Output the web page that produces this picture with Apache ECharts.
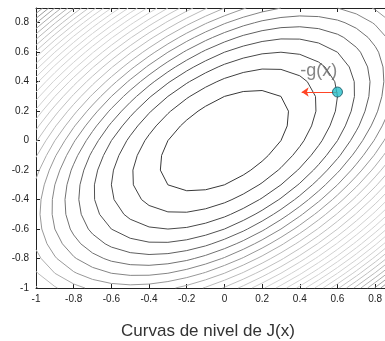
<!DOCTYPE html>
<html>
<head>
<meta charset="utf-8">
<script src="https://cdn.jsdelivr.net/npm/echarts@6/dist/echarts.min.js"></script>
<style>
  html, body { margin: 0; padding: 0; background: #fff; }
  #chart { width: 385px; height: 341px; }
</style>
</head>
<body>
<div id="chart"></div>
<script>
// sample grid of the surface (coarse, like the original plot)
const xGrid = [-1, -0.9, -0.8, -0.7, -0.6, -0.5, -0.4, -0.3, -0.2, -0.1, 0, 0.1, 0.2, 0.3, 0.4, 0.5, 0.6, 0.7, 0.8, 0.9];
const yGrid = [-1, -0.9, -0.8, -0.7, -0.6, -0.5, -0.4, -0.3, -0.2, -0.1, 0, 0.1, 0.2, 0.3, 0.4, 0.5, 0.6, 0.7, 0.8, 0.9];
// J(x) = a*x1^2 + b*x1*x2 + c*x2^2
const jCoef = [1, -1, 1];
const levels = [0.09, 0.18, 0.27, 0.36, 0.45, 0.54, 0.63, 0.72, 0.81, 0.9,
  0.99, 1.08, 1.17, 1.26, 1.35, 1.44, 1.53, 1.62, 1.71, 1.8,
  1.89, 1.98, 2.07, 2.16, 2.25, 2.34, 2.43, 2.52, 2.61, 2.7];
const point = [0.6, 0.33];
const arrowEnd = [0.41, 0.33];
const arrowLabel = '-g(x)';
const labelPos = [0.5, 0.47];
const title = 'Curvas de nivel de J(x)';

const J = (x, y) => jCoef[0] * x * x + jCoef[1] * x * y + jCoef[2] * y * y;
const Z = yGrid.map((y) => xGrid.map((x) => J(x, y)));

// marching squares, stitched into polylines
function contour(level) {
  const pts = {};
  const adj = {};
  const cross = (key, xa, ya, za, xb, yb, zb) => {
    if (!pts[key]) {
      const t = (level - za) / (zb - za);
      pts[key] = [xa + t * (xb - xa), ya + t * (yb - ya)];
      adj[key] = [];
    }
    return key;
  };
  const link = (a, b) => { adj[a].push(b); adj[b].push(a); };
  for (let j = 0; j < yGrid.length - 1; j++) {
    for (let i = 0; i < xGrid.length - 1; i++) {
      const x0 = xGrid[i], x1 = xGrid[i + 1], y0 = yGrid[j], y1 = yGrid[j + 1];
      const z00 = Z[j][i], z10 = Z[j][i + 1], z11 = Z[j + 1][i + 1], z01 = Z[j + 1][i];
      const hits = [];
      if ((z00 < level) !== (z10 < level)) hits.push(cross('h' + j + '_' + i, x0, y0, z00, x1, y0, z10));
      if ((z10 < level) !== (z11 < level)) hits.push(cross('v' + j + '_' + (i + 1), x1, y0, z10, x1, y1, z11));
      if ((z01 < level) !== (z11 < level)) hits.push(cross('h' + (j + 1) + '_' + i, x0, y1, z01, x1, y1, z11));
      if ((z00 < level) !== (z01 < level)) hits.push(cross('v' + j + '_' + i, x0, y0, z00, x0, y1, z01));
      if (hits.length === 2) link(hits[0], hits[1]);
      else if (hits.length === 4) {
        const mid = (z00 + z10 + z11 + z01) / 4;
        if ((mid < level) === (z00 < level)) { link(hits[0], hits[1]); link(hits[2], hits[3]); }
        else { link(hits[0], hits[3]); link(hits[1], hits[2]); }
      }
    }
  }
  const walk = (start) => {
    const path = [pts[start]];
    let cur = start;
    while (adj[cur].length) {
      const nxt = adj[cur].pop();
      adj[nxt].splice(adj[nxt].indexOf(cur), 1);
      path.push(pts[nxt]);
      cur = nxt;
    }
    return path;
  };
  const paths = [];
  Object.keys(adj).forEach((k) => { if (adj[k].length === 1) paths.push(walk(k)); });
  Object.keys(adj).forEach((k) => { if (adj[k].length) paths.push(walk(k)); });
  return paths;
}

// gray ramp: dark inside, light in the middle, a bit darker at the corners
function grayFor(t) {
  const stops = [[0, 55], [0.12, 85], [0.3, 185], [0.45, 210], [0.65, 210], [0.85, 175], [1, 140]];
  for (let s = 1; s < stops.length; s++) {
    if (t <= stops[s][0]) {
      const f = (t - stops[s - 1][0]) / (stops[s][0] - stops[s - 1][0]);
      const v = Math.round(stops[s - 1][1] + f * (stops[s][1] - stops[s - 1][1]));
      return 'rgb(' + v + ',' + v + ',' + v + ')';
    }
  }
  return '#888';
}

const contourData = [];
levels.forEach((lv, idx) => {
  const color = grayFor(idx / (levels.length - 1));
  contour(lv).forEach((p) => {
    contourData.push({ coords: p, lineStyle: { color } });
  });
});

const chart = echarts.init(document.getElementById('chart'));
const axisText = { color: '#222', fontSize: 10, fontFamily: 'Liberation Sans, Arial, sans-serif' };
const fmt = (v) => String(+v.toFixed(1));

chart.setOption({
  animation: false,
  title: {
    text: title,
    left: 203,
    textAlign: 'center',
    top: 318,
    textStyle: { fontSize: 17, fontWeight: 'normal', color: '#333', fontFamily: 'Liberation Sans, Arial, sans-serif' }
  },
  grid: { left: 36, top: 8, width: 358, height: 280, outerBoundsMode: 'none' },
  xAxis: [{
    type: 'value', min: -1, max: 0.9, interval: 0.2,
    axisLine: { show: true, onZero: false, lineStyle: { color: '#222', width: 1 } },
    axisTick: { inside: true, length: 4, lineStyle: { color: '#222' } },
    axisLabel: Object.assign({ margin: 6, formatter: fmt, showMaxLabel: false }, axisText),
    splitLine: { show: false }
  }, {
    type: 'value', position: 'top', min: -1, max: 0.9, interval: 0.2,
    axisLine: { show: true, onZero: false, lineStyle: { color: '#222', width: 1 } },
    axisTick: { inside: true, length: 4, lineStyle: { color: '#222' } },
    axisLabel: { show: false },
    splitLine: { show: false }
  }],
  yAxis: {
    type: 'value', min: -1, max: 0.9, interval: 0.2,
    axisLine: { show: true, onZero: false, lineStyle: { color: '#222', width: 1 } },
    axisTick: { inside: true, length: 4, lineStyle: { color: '#222' } },
    axisLabel: Object.assign({ margin: 7, formatter: fmt, showMaxLabel: false }, axisText),
    splitLine: { show: false }
  },
  series: [{
    type: 'lines',
    coordinateSystem: 'cartesian2d',
    polyline: true,
    silent: true,
    lineStyle: { width: 1, opacity: 1 },
    data: contourData
  }, {
    type: 'lines',
    coordinateSystem: 'cartesian2d',
    silent: true,
    symbol: ['none', 'arrow'],
    symbolSize: 7,
    lineStyle: { color: '#ff4526', width: 1.2, opacity: 1 },
    data: [{ coords: [point, arrowEnd] }],
    z: 5
  }, {
    type: 'scatter',
    silent: true,
    symbolSize: 10,
    itemStyle: { color: '#26bfc9', borderColor: '#154f5c', borderWidth: 1 },
    data: [point],
    z: 6
  }, {
    type: 'scatter',
    silent: true,
    symbolSize: 0,
    data: [labelPos],
    label: {
      show: true, position: 'inside', formatter: arrowLabel,
      fontSize: 18, color: '#666', fontFamily: 'Liberation Sans, Arial, sans-serif'
    },
    z: 6
  }]
});
</script>
</body>
</html>
